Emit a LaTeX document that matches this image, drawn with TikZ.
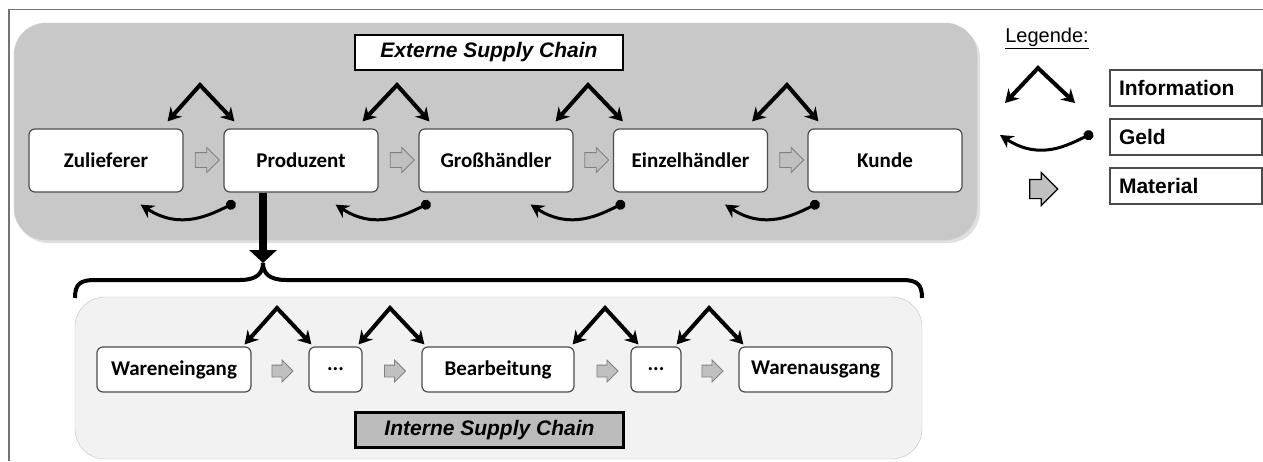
\documentclass[tikz,border=0pt]{standalone}
\usepackage{fontspec}
\setmainfont{Carlito}
\newfontfamily\arialfont{Liberation Sans}
\usetikzlibrary{shapes.arrows,arrows.meta,calc}
\definecolor{extgrey}{RGB}{200,200,200}
\definecolor{intgrey}{RGB}{242,242,242}
\definecolor{titlegrey}{RGB}{188,188,188}
\definecolor{matgrey}{RGB}{192,192,192}

\begin{document}
\begin{tikzpicture}[x=1pt, y=-1pt,
    chainbox/.style={rectangle, draw=black!70, line width=1.2pt, fill=white, rounded corners=6pt, font=\fontsize{21}{24}\selectfont\bfseries, inner sep=0pt},
    extbox/.style={chainbox, minimum width=154pt, minimum height=63pt},
    intbox/.style={chainbox, minimum height=45pt},
    titlebox/.style={rectangle, draw=black, line width=2.5pt, minimum width=268pt, minimum height=35pt, font=\arialfont\fontsize{21}{24}\selectfont\bfseries\itshape},
    legendbox/.style={rectangle, draw=black!70, line width=1.2pt, fill=white, minimum width=152pt, minimum height=36pt, text width=134pt, align=left, font=\arialfont\fontsize{21}{24}\selectfont\bfseries},
    material/.style={single arrow, draw=black!50, fill=matgrey, line width=0.8pt, inner xsep=0pt, inner ysep=7pt, single arrow head extend=5pt, minimum height=24pt},
    smallmaterial/.style={material, inner ysep=5.5pt, single arrow head extend=5pt, minimum height=21pt},
    info/.style={line width=4pt, line join=miter, {Stealth[length=13pt,width=15pt]}-{Stealth[length=13pt,width=15pt]}},
    geld/.style={line width=3pt, {Circle[length=10pt]}-{Stealth[length=13pt,width=14pt]}}
]
\useasboundingbox (0,0) rectangle (1263,461);

% Frame
\draw[black!55, line width=1.5pt] (9,461) -- (9,9.5) -- (1263,9.5);

% Externe Supply Chain: background
\fill[black!12, rounded corners=32pt] (16,26) rectangle (980,243);
\draw[black!20, fill=extgrey, rounded corners=32pt] (14,23) rectangle (977,240);
\node[titlebox, fill=white] (extitle) at (489,52.5) {Externe Supply Chain};

% Externe Supply Chain: partners
\node[extbox] (zul) at (106,160.5) {Zulieferer};
\node[extbox] (prod) at (301,160.5) {Produzent};
\node[extbox] (gross) at (496,160.5) {Großhändler};
\node[extbox] (einz) at (690.5,160.5) {Einzelhändler};
\node[extbox] (kunde) at (885,160.5) {Kunde};

% Material
\node[material] (m1) at (203.5,160) {};
\node[material] (m2) at (398.5,160) {};
\node[material] (m3) at (593,160) {};
\node[material] (m4) at (788,160) {};

% Information
\coordinate (i1) at (200,85);
\coordinate (i2) at (397,85);
\coordinate (i3) at (588,85);
\coordinate (i4) at (787,85);
\draw[info] ($(zul.north east)+(-16,-7)$) -- (i1) -- ($(prod.north west)+(11,-7)$);
\draw[info] ($(prod.north east)+(-16,-7)$) -- (i2) -- ($(gross.north west)+(11,-7)$);
\draw[info] ($(gross.north east)+(-18,-7)$) -- (i3) -- ($(einz.north west)+(10,-7)$);
\draw[info] ($(einz.north east)+(-16,-7)$) -- (i4) -- ($(kunde.north west)+(11,-7)$);

% Geld
\draw[geld] ($(prod.south west)+(12,10)$) .. controls +(-25,12) and +(40,26) .. ($(zul.south east)+(-43,12)$);
\draw[geld] ($(gross.south west)+(12,10)$) .. controls +(-25,12) and +(40,26) .. ($(prod.south east)+(-43,12)$);
\draw[geld] ($(einz.south west)+(12,10)$) .. controls +(-25,12) and +(40,26) .. ($(gross.south east)+(-43,12)$);
\draw[geld] ($(kunde.south west)+(12,10)$) .. controls +(-25,12) and +(40,26) .. ($(einz.south east)+(-43,12)$);

% Produzent -> interne Supply Chain
\coordinate (bt) at (263,263);
\draw[line width=8pt, -{Triangle[length=13pt,width=27pt]}] ([xshift=-38pt]prod.south) -- (bt);
\draw[line width=4pt] (75,298) .. controls (75,284) and (80,280) .. (95,280) -- (240,280)
    .. controls (257,280) and (263,273) .. (bt) .. controls (263,273) and (269,280) .. (286,280)
    -- (902,280) .. controls (917,280) and (922,284) .. (922,298);

% Interne Supply Chain: background
\draw[black!25, fill=intgrey, rounded corners=30pt] (75,297) rectangle (922,459);
\node[titlebox, fill=titlegrey] (intitle) at (489.5,430) {Interne Supply Chain};

% Interne Supply Chain: steps
\node[intbox, minimum width=154pt] (wein) at (174,369.5) {Wareneingang};
\node[intbox, minimum width=53pt] (dots1) at (335.5,369.5) {...};
\node[intbox, minimum width=152pt] (bearb) at (498,369.5) {Bearbeitung};
\node[intbox, minimum width=50pt] (dots2) at (656,369.5) {...};
\node[intbox, minimum width=153pt] (waus) at (815.5,369.5) {Warenausgang};

\node[smallmaterial] (m5) at (279.5,371) {};
\node[smallmaterial] (m6) at (392,371) {};
\node[smallmaterial] (m7) at (604.5,371) {};
\node[smallmaterial] (m8) at (709.5,371) {};

\coordinate (i5) at (277,308);
\coordinate (i6) at (390,308);
\coordinate (i7) at (605,308);
\coordinate (i8) at (709,308);
\draw[info] ($(wein.north east)+(-7,-2)$) -- (i5) -- ($(dots1.north west)+(3,-2)$);
\draw[info] ($(dots1.north east)+(-4,-2)$) -- (i6) -- ($(bearb.north west)+(3,-2)$);
\draw[info] ($(bearb.north east)+(-2,-2)$) -- (i7) -- ($(dots2.north west)+(8,-2)$);
\draw[info] ($(dots2.north east)+(-5,-2)$) -- (i8) -- ($(waus.north west)+(5,-2)$);

% Legende
\node[font=\arialfont\fontsize{20}{24}\selectfont] (leg) at (1047,38) {\underline{Legende:}};
\node[legendbox] (linfo) at (1186,88) {Information};
\node[legendbox] (lgeld) at (1186,137) {Geld};
\node[legendbox] (lmat) at (1186,186) {Material};
\coordinate (li) at (1038,68);
\draw[info] ($(li)+(-33,35)$) -- (li) -- ($(li)+(37,35)$);
\coordinate (lg) at (1093,133);
\draw[geld] (lg) .. controls +(-25,12) and +(40,26) .. ($(lg)+(-93,2)$);
\node[material, draw=black, line width=1.2pt, inner ysep=9pt, single arrow head extend=7pt, minimum height=28pt] (lm) at (1039,189) {};

\end{tikzpicture}
\end{document}
